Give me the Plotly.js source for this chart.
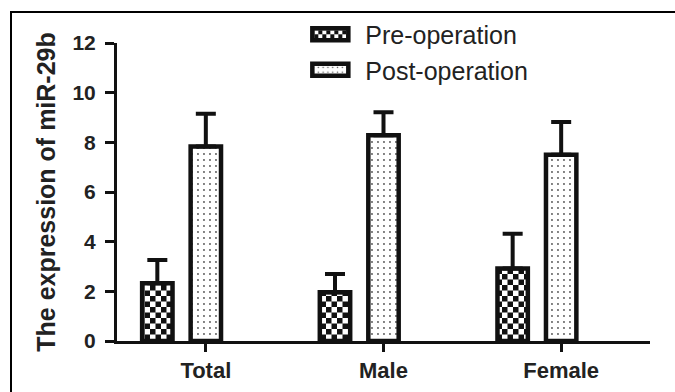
<!DOCTYPE html>
<html>
<head>
<meta charset="utf-8">
<script src="https://cdn.plot.ly/plotly-3.0.1.min.js"></script>
<style>
  html, body { margin: 0; padding: 0; background: #fff; overflow: hidden; }
  #wrap { position: relative; width: 675px; height: 392px; overflow: hidden; }
  #chart { width: 675px; height: 392px; }
  /* figure frame: top and left edges run off the canvas */
  #frame-top { position: absolute; left: 10px; top: 11px; width: 700px; height: 0; border-top: 2.5px solid #000; pointer-events: none; }
  #frame-left { position: absolute; left: 10px; top: 11px; width: 0; height: 400px; border-left: 2.5px solid #000; pointer-events: none; }
</style>
</head>
<body>
<div id="wrap">
  <div id="chart"></div>
  <div id="frame-top"></div>
  <div id="frame-left"></div>
</div>
<script>
// miR-29b expression before and after the operation, by group (mean with upper SD bar)
const groups = ['Total', 'Male', 'Female'];
const seriesNames = ['Pre-operation', 'Post-operation'];
const preMean = [2.33, 1.96, 2.92];
const preSD = [0.93, 0.74, 1.40];
const postMean = [7.83, 8.29, 7.50];
const postSD = [1.32, 0.92, 1.32];
const yTickVals = [0, 2, 4, 6, 8, 10, 12];
const yTitle = 'The expression of miR-29b';

const W = 675, H = 392;
const M = { l: 116.5, r: 25, t: 40.7, b: 51, pad: 0 };
const plotW = W - M.l - M.r, plotH = H - M.t - M.b;
const BAR_W = 0.171;      // bar width in category units
const PRE_SHIFT = -0.273; // pre-operation bar sits left of the category tick
const INK = '#111';
const FONT = 'Liberation Sans, Arial, sans-serif';

const pxX = px => (px - M.l) / plotW;
const pxY = py => (H - M.b - py) / plotH;

const outline = { color: INK, width: 4.5 };
const errStyle = { type: 'data', symmetric: false, color: INK, thickness: 4, width: 10 };

const pre = {
  type: 'bar', name: seriesNames[0], x: groups, y: preMean,
  width: BAR_W, offset: PRE_SHIFT - BAR_W / 2,
  marker: {
    color: '#fff', line: outline,
    pattern: { shape: '+', size: 11, solidity: 0.5, fgcolor: INK, bgcolor: '#fff' }
  },
  error_y: Object.assign({ array: preSD, arrayminus: preSD.map(() => 0) }, errStyle),
  hoverinfo: 'skip'
};

const post = {
  type: 'bar', name: seriesNames[1], x: groups, y: postMean,
  width: BAR_W, offset: -BAR_W / 2,
  marker: {
    color: '#fff', line: outline,
    pattern: { shape: '.', size: 6, solidity: 0.08, fgcolor: '#555', bgcolor: '#fff' }
  },
  error_y: Object.assign({ array: postSD, arrayminus: postSD.map(() => 0) }, errStyle),
  hoverinfo: 'skip'
};

const axisCommon = {
  showline: true, linecolor: INK, linewidth: 3,
  ticks: 'outside', tickwidth: 3, tickcolor: INK,
  showgrid: false, zeroline: false, fixedrange: true
};

const layout = {
  width: W, height: H, margin: M,
  paper_bgcolor: '#fff', plot_bgcolor: '#fff',
  barmode: 'overlay',
  showlegend: true,
  legend: {
    x: pxX(295), xanchor: 'left', y: pxY(9), yanchor: 'top',
    font: { family: FONT, size: 25, color: '#222' },
    itemwidth: 60, bgcolor: 'rgba(0,0,0,0)', borderwidth: 0
  },
  xaxis: Object.assign({
    type: 'category', range: [-0.5, 2.5], ticklen: 8,
    tickfont: { family: FONT, size: 22, weight: 'bold', color: '#222' }
  }, axisCommon),
  yaxis: Object.assign({
    range: [0, 12], tickvals: yTickVals, ticklen: 9, ticklabelstandoff: 5,
    tickfont: { family: FONT, size: 21, weight: 'bold', color: '#222' },
    title: { text: yTitle, font: { family: FONT, size: 25, weight: 'bold', color: '#222' }, standoff: 10 }
  }, axisCommon)
};

Plotly.newPlot('chart', [pre, post], layout, { staticPlot: true }).then(gd => {
  // turn the '+' fill tiles into a checkerboard
  gd.querySelectorAll('defs pattern').forEach(p => {
    const mark = p.querySelector('path');
    if (!mark) return;
    const s = parseFloat(p.getAttribute('width'));
    const h = s / 2;
    mark.setAttribute('d', `M0,0H${h}V${h}H0Z M${h},${h}H${s}V${s}H${h}Z`);
    mark.removeAttribute('stroke');
    mark.removeAttribute('stroke-width');
    mark.setAttribute('style', `fill:${INK};stroke:none;opacity:1`);
  });
  // wider legend swatches
  gd.querySelectorAll('.legend .legendpoints path').forEach(el => {
    if (el.getAttribute('d') === 'M6,6H-6V-6H6Z') el.setAttribute('d', 'M18,6H-18V-6H18Z');
  });
});
</script>
</body>
</html>
